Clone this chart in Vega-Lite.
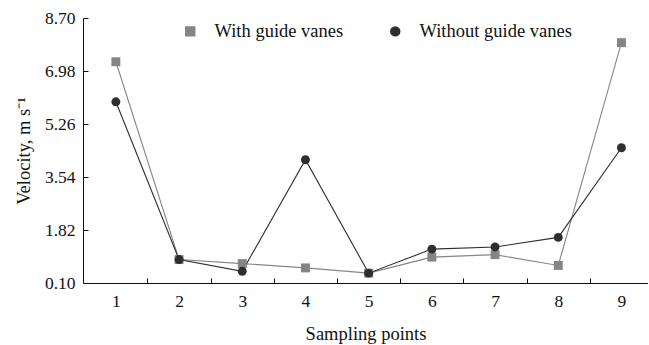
{
  "$schema": "https://vega.github.io/schema/vega-lite/v6.json",
  "autosize": {"type": "none"},
  "width": 565,
  "height": 265,
  "padding": {"left": 83, "top": 18, "right": 0, "bottom": 62},
  "background": "white",
  "config": {
    "view": {"stroke": null},
    "font": "Liberation Serif",
    "axis": {"titleFont": "Liberation Serif", "labelFont": "Liberation Serif", "labelFontSize": 17.5, "titleFontSize": 18.5, "titleFontWeight": "normal", "labelColor": "#111", "titleColor": "#111", "domainColor": "#111", "tickColor": "#111", "grid": false},
    "legend": {"labelFont": "Liberation Serif", "labelFontSize": 18.5, "labelColor": "#111"}
  },
  "data": {"values": [
    {"point": 1, "series": "With guide vanes", "v": 7.28},
    {"point": 2, "series": "With guide vanes", "v": 0.86},
    {"point": 3, "series": "With guide vanes", "v": 0.73},
    {"point": 4, "series": "With guide vanes", "v": 0.59},
    {"point": 5, "series": "With guide vanes", "v": 0.42},
    {"point": 6, "series": "With guide vanes", "v": 0.94},
    {"point": 7, "series": "With guide vanes", "v": 1.02},
    {"point": 8, "series": "With guide vanes", "v": 0.67},
    {"point": 9, "series": "With guide vanes", "v": 7.90},
    {"point": 1, "series": "Without guide vanes", "v": 5.98},
    {"point": 2, "series": "Without guide vanes", "v": 0.86},
    {"point": 3, "series": "Without guide vanes", "v": 0.48},
    {"point": 4, "series": "Without guide vanes", "v": 4.10},
    {"point": 5, "series": "Without guide vanes", "v": 0.42},
    {"point": 6, "series": "Without guide vanes", "v": 1.20},
    {"point": 7, "series": "Without guide vanes", "v": 1.27},
    {"point": 8, "series": "Without guide vanes", "v": 1.58},
    {"point": 9, "series": "Without guide vanes", "v": 4.49}
  ]},
  "encoding": {
    "x": {
      "field": "point", "type": "quantitative",
      "scale": {"domain": [0.48, 9.42], "nice": false, "zero": false},
      "axis": {
        "title": "Sampling points",
        "labelFont": "Liberation Serif",
        "values": [1, 1.5, 2, 2.5, 3, 3.5, 4, 4.5, 5, 5.5, 6, 6.5, 7, 7.5, 8, 8.5, 9],
        "labelExpr": "datum.value % 1 == 0 ? format(datum.value, 'd') : ''",
        "tickSize": {"expr": "-5"},
        "tickOpacity": {"condition": {"test": "datum.value % 1 == 0", "value": 0}, "value": 1},
        "labelPadding": 14,
        "titleX": 282.5,
        "titleY": 50,
        "titleBaseline": "middle",
        "labelFlush": false
      }
    },
    "y": {
      "field": "v", "type": "quantitative",
      "scale": {"domain": [0.10, 8.70], "nice": false, "zero": false},
      "axis": {
        "title": "Velocity, m s⁻¹",
        "labelFont": "Liberation Serif",
        "values": [0.10, 1.82, 3.54, 5.26, 6.98, 8.70],
        "format": ".2f",
        "tickSize": {"expr": "-5"},
        "labelPadding": 13,
        "titleX": -60,
        "titleY": 132.5,
        "titleBaseline": "middle",
        "titleAlign": "center",
        "labelFlush": false
      }
    },
    "color": {
      "field": "series", "type": "nominal",
      "scale": {"domain": ["With guide vanes", "Without guide vanes"], "range": ["#858585", "#2e2e2e"]},
      "legend": {
        "title": null,
        "orient": "none",
        "legendX": 98,
        "legendY": 4,
        "direction": "horizontal",
        "symbolSize": 80,
        "labelOffset": 15,
        "columnPadding": 42,
        "labelFont": "Liberation Serif"
      }
    }
  },
  "layer": [
    {
      "mark": {"type": "line", "strokeWidth": 1.1}
    },
    {
      "mark": {"type": "point", "filled": true, "size": 80, "opacity": 1},
      "encoding": {
        "shape": {"field": "series", "type": "nominal", "scale": {"domain": ["With guide vanes", "Without guide vanes"], "range": ["square", "circle"]}}
      }
    }
  ]
}
